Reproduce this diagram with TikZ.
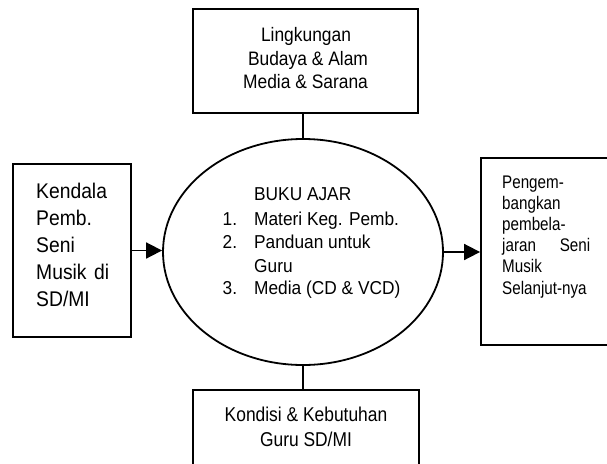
\documentclass[tikz,border=0pt]{standalone}
\usepackage{fontspec}
\usepackage{graphicx}
\setmainfont{Liberation Sans}
\usetikzlibrary{shapes.geometric,arrows.meta}
\newcommand\vstr[2][1.12]{\scalebox{1}[#1]{#2}}
\begin{document}
\begin{tikzpicture}[x=1pt,y=-1pt,
  box/.style={draw,line width=1.8pt,inner sep=0pt,rectangle},
  ln/.style={line width=1.7pt},
  arr/.style={line width=1.7pt,-{Triangle[length=16pt,width=16pt]}},
  tc/.style={inner sep=0pt,anchor=base,font=\fontsize{17.4}{20}\selectfont},
  tl/.style={inner sep=0pt,anchor=base west,font=\fontsize{17.3}{20}\selectfont},
  tleft/.style={inner sep=0pt,anchor=base west,font=\fontsize{19.3}{22}\selectfont},
  tright/.style={inner sep=0pt,anchor=base west,font=\fontsize{15.2}{17}\selectfont}]
\useasboundingbox (0,0) rectangle (607,463);
\clip (0,0) rectangle (607,463);
% boxes
\node[box,minimum width=225pt,minimum height=104pt] (tbox) at (305.5,61) {};
\node[box,minimum width=118pt,minimum height=173pt] (lbox) at (72,250.5) {};
\node[box,minimum width=144pt,minimum height=187pt] (rbox) at (553,251.5) {};
\node[box,minimum width=226pt,minimum height=90pt] (bbox) at (306,435) {};
\node[draw,ellipse,line width=1.8pt,inner sep=0pt,minimum width=280pt,minimum height=226pt] (ell) at (303,252) {};
% connectors
\draw[arr] (lbox.east) -- (lbox.east -| ell.west);
\draw[arr] (ell.east) -- (ell.east -| rbox.west);
\draw[ln] (ell.north) -- (ell.north |- tbox.south);
\draw[ln] (ell.south) -- (ell.south |- bbox.north);
% top text
\node[tc] (t1) at (306,41) {\vstr{Lingkungan}};
\node[tc] (t2) at (308,65) {\vstr{Budaya \& Alam}};
\node[tc] (t3) at (305.5,88) {\vstr{Media \& Sarana}};
% centre text
\node[tl] (c0) at (254,200.5) {\vstr[1.08]{BUKU AJAR}};
\node[tl] (n1) at (222.5,225) {\vstr[1.08]{1.}};
\node[tl] (m1) at (254,225) {\vstr[1.08]{Materi Keg. Pemb.}};
\node[tl] (n2) at (222.5,248.5) {\vstr[1.08]{2.}};
\node[tl] (m2) at (254,248.5) {\vstr[1.08]{Panduan untuk}};
\node[tl] (m2b) at (254,272) {\vstr[1.08]{Guru}};
\node[tl] (n3) at (222.5,294) {\vstr[1.08]{3.}};
\node[tl] (m3) at (254,294) {\vstr[1.08]{Media (CD \& VCD)}};
% left text
\node[tleft] (l1) at (36,198) {\vstr[1.1]{Kendala}};
\node[tleft] (l2) at (36,225.2) {\vstr[1.1]{Pemb.}};
\node[tleft] (l3) at (36,252.4) {\vstr[1.1]{Seni}};
\node[tleft] (l4) at (36,279.6) {\vstr[1.1]{\makebox[73pt][s]{Musik di}}};
\node[tleft] (l5) at (36,306.8) {\vstr[1.1]{SD/MI}};
% right text
\node[tright] (r1) at (502,188) {\vstr[1.2]{Pengem-}};
\node[tright] (r2) at (502,209.2) {\vstr[1.2]{bangkan}};
\node[tright] (r3) at (502,230.4) {\vstr[1.2]{pembela-}};
\node[tright] (r4) at (502,251.6) {\vstr[1.2]{\makebox[88pt][s]{jaran Seni}}};
\node[tright] (r5) at (502,272.8) {\vstr[1.2]{Musik}};
\node[tright] (r6) at (502,294) {\vstr[1.2]{Selanjut-nya}};
% bottom text
\node[tc] (b1) at (306,421.7) {\vstr[1.15]{Kondisi \& Kebutuhan}};
\node[tc] (b2) at (306,446.7) {\vstr[1.15]{Guru SD/MI}};
\end{tikzpicture}
\end{document}
